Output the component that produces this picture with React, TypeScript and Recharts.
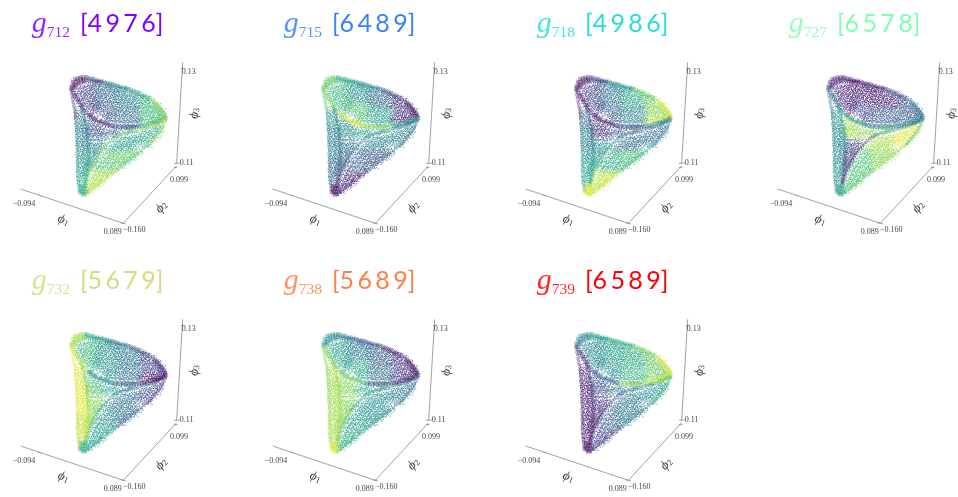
import { ScatterChart, Scatter, XAxis, YAxis, ReferenceLine, ReferenceDot } from 'recharts';

const B1 = [232,262,246,256,259,251,272,254,284,250,238,272,251,268,263,265,276,266,287,262,234,284,246,282,258,279,270,277,282,275,240,296,252,293,264,291,277,288,287,286,247,307,259,304,271,301,283,298,256,318,268,314,280,311,288,307,268,328,279,323,288,319,279,337,287,331];
const B2 = [293,254,305,251,317,256,329,258,341,262,297,266,309,263,322,268,334,270,346,273,293,277,305,275,317,280,329,281,342,284,297,289,310,288,322,292,335,293,347,296,293,300,305,300,317,304,329,305,342,307];
const B3 = [353,268,364,270,376,272,352,281,364,283,376,284,388,280,400,283,412,286,356,293,368,296,380,295,392,293,404,296,416,298,353,305,365,307,377,306,389,305,401,308,413,310,358,316,370,318,383,317,395,316,407,319];
const B4 = [424,292,436,298,428,304,440,308,452,306,422,315,434,318,446,319,458,316,470,320,426,328,438,330,450,331,462,329,474,332,484,336,430,340,442,342,454,342,466,341,478,344];
const B5 = [293,312,305,313,318,315,331,316,344,318,298,325,310,326,322,328,335,329,347,330,303,337,315,339,328,340,340,341,310,350,322,352,334,353,346,353,320,362,332,364,345,366];
const B6 = [356,327,368,330,380,329,392,328,404,331,416,330,353,341,365,342,377,341,389,343,401,342,413,344,356,354,368,355,380,354,392,356,404,355,416,356,358,367,370,368,382,367,394,369,406,368,416,367];
const B7 = [426,352,438,354,450,353,462,352,474,352,486,350,424,365,436,365,448,363,460,360,472,358];
const L1 = [232,330,241,336,233,345,243,350,233,358,243,362,238,372,248,372,234,383,244,385,254,382];
const L2 = [236,395,247,397,256,393,241,407,251,410,259,404,236,418,246,421,257,417,240,431,250,434,259,430,236,444,246,446,256,443,241,457,251,458,260,455,237,469,247,471,257,468];
const L3 = [241,483,251,483,259,480,237,495,246,496,256,494,241,508,251,508,258,505,238,521,247,521,255,518,241,534,250,533,240,546,247,548];
const M1 = [262,352,272,358,264,367,275,371,287,370,298,374,268,381,279,384,291,385,303,386,266,394,277,396,289,397,301,398,270,408,282,409,294,410,306,408];
const M2 = [314,392,326,390,338,389,350,393,374,387,386,384,398,386,316,405,328,403,340,401,352,397];
const M3 = [270,427,282,426,294,425,306,428,270,440,281,438,293,441,303,437,272,452,283,450,293,453,271,464,281,466,288,462,269,477,279,478,268,490,276,489,266,502];
const D1 = [468,374,478,376,432,392,444,390,456,388,468,386,478,390,412,403,424,405,436,402,448,404,460,401,470,403,408,416,420,418,432,415,444,417,456,414,410,428,422,430,434,428,444,430];
const D2 = [372,410,384,408,396,406,350,420,362,420,374,422,386,419,397,421,336,433,348,432,360,434,372,433,384,435,396,432,328,445,340,446,352,444,364,447,376,445,388,446,398,444];
const D3 = [346,458,358,457,370,459,382,457,394,460,406,456,416,454,344,470,356,472,368,470,380,472,392,469,402,467,348,483,360,484,372,482,382,480,346,496,357,495,366,493];
const D4 = [314,452,326,456,336,459,308,466,320,468,332,469,298,479,310,480,322,482,334,482,290,492,302,493,314,495,326,496,336,495,284,505,296,506,308,507,320,508,332,509,342,506];
const D5 = [277,518,289,519,301,520,313,521,325,520,272,531,284,532,296,533,308,534,266,544,278,545,290,546,302,544,262,556,274,558,286,556,256,567,266,568];
const T1 = [214,255,218,244,224,237,232,233,240,231,248,231,220,252,226,245,233,240,241,237,249,237,227,252,235,247,243,244,252,243,213,264,218,262,225,259];
const T2 = [256,231,263,233,270,235,277,236,284,238,291,240,298,241,305,243,258,238,266,240,274,242,282,244,290,246,300,248];
const T3 = [312,246,320,248,328,250,336,252,344,255,352,257,360,259,368,261,376,263,384,266,318,254,332,258,346,262,360,265,374,269];
const T4 = [392,269,400,272,408,275,416,278,424,282,432,285,440,290,448,294,395,276,410,281,425,288,440,297];
const T5 = [456,299,463,305,470,311,476,317,482,325,487,332,491,339,494,346,497,352,462,312,470,320,477,329,483,338,488,347];
const F1 = [216,268,219,278,223,287,228,296,233,305,239,314,245,322,251,329,258,336,226,284,236,300,246,315];
const F2 = [265,344,272,350,280,355,288,360,296,364,304,367,312,370,320,373,328,375,336,377,270,344,285,354,300,362,316,368];
const F3 = [344,378,352,379,360,380,368,381,376,381,384,381,392,381,400,380,408,379,416,378];
const F4 = [424,377,432,375,440,373,448,371,456,369,464,366,472,363,480,360,488,356,494,353,470,368,482,364];
const R1 = [256,546,259,537,262,528,265,519,268,510,272,501,276,492,280,483,285,474,290,466];
const R2 = [296,458,302,450,309,443,316,435,323,428,330,421,338,415,346,410,354,405];
const R3 = [362,402,371,398,380,396,389,393,398,391,407,389,416,387,425,385,434,382,443,380];
const R4 = [452,377,461,374,470,370,478,366,486,362,492,358];
const V1 = [255,545,256,535,258,525,259,515,260,505,261,495,262,485,262,475,263,465,263,455];
const V2 = [263,445,263,435,262,425,262,415,261,405,260,395,259,385,257,375,255,365,252,355,250,345,247,335,245,327];
const E1 = [212,272,214,282,216,292,218,302,220,312,222,322,224,332,225,342,226,352];
const E2 = [227,362,228,372,228,382,229,392,230,402,230,412,230,422,231,432,231,442,232,452];
const E3 = [232,462,232,472,232,482,232,492,232,502,232,512,233,522,233,532,234,542,235,552,236,562,238,570];
const O1 = [495,362,491,372,486,382,481,391,475,400,468,409,461,417,454,425,448,431];
const O2 = [440,437,431,444,422,452,412,459,402,467,392,475,382,482,372,490,362,498,352,507];
const O3 = [342,515,332,523,322,531,312,539,302,547,292,555,282,562,272,570,264,576,256,581,340,508,320,524,300,540,280,555,262,568];
const A1 = [238,574,243,579,248,583,253,581,245,573,251,574,258,573,247,566,254,565,241,565,248,558,255,556,242,556];

const sheets = [B1, B2, B3, B4, B5, B6, B7, L1, L2, L3, M1, M2, M3, D1, D2, D3, D4, D5];
const firmRims = [T1, T2, T3, T4, T5, F1, F2, F3, F4];
const softRims = [R1, R2, R3, R4, V1, V2, E1, E2, E3, O1, O2, O3, A1];
const rims = [...firmRims, ...softRims];

// colour value per zone, same order as sheets then rims
const tones712 = [.2,.35,.45,.65,.25,.35,.7, .4,.45,.55, .25,.3,.45, .6,.55,.75,.7,.85, .05,.2,.45,.6,.8, .08,.1,.2,.6, .8,.75,.8,.95, .6,.4, .1,.45,.55, .85,.7,.9, .6];
const tones715 = [.65,.5,.35,.15,.7,.55,.1, .5,.4,.3, .5,.55,.35, .45,.45,.25,.3,.1, .75,.6,.45,.2,.05, .8,.95,.85,.55, .2,.4,.5,.4, .25,.45, .7,.45,.35, .3,.35,.1, .03];
const tones718 = [.2,.4,.6,.8,.3,.45,.88, .35,.45,.55, .15,.25,.5, .35,.35,.7,.6,.9, .05,.2,.5,.75,.95, .05,.08,.2,.45, .75,.5,.35,.4, .55,.3, .1,.4,.6, .5,.55,.9, .95];
const tones727 = [.1,.07,.1,.25,.2,.3,.35, .5,.45,.5, .85,.8,.2, .95,.85,.8,.7,.7, .1,.05,.1,.25,.4, .4,.5,.45,.35, .1,.15,.5,.45, .15,.55, .4,.45,.5, .6,.85,.75, .55];
const tones732 = [.65,.5,.4,.2,.5,.35,.1, .95,.95,.9, .7,.55,.8, .25,.4,.35,.5,.55, .85,.6,.4,.25,.1, .9,.45,.2,.05, .7,.5,.3,.05, .9,.8, .98,.95,.9, .12,.25,.55, .65];
const tones738 = [.55,.4,.3,.15,.6,.35,.15, .85,.85,.85, .8,.6,.8, .4,.5,.5,.55,.6, .5,.4,.25,.08,.05, .8,.75,.2,.07, .75,.55,.4,.3, .85,.85, .8,.8,.85, .3,.4,.6, .95];
const tones739 = [.45,.55,.6,.75,.5,.65,.8, .1,.1,.07, .25,.4,.15, .5,.4,.4,.3,.2, .45,.55,.65,.8,.95, .1,.3,.85,.9, .05,.2,.45,.7, .07,.15, .15,.1,.07, .6,.45,.2, .02];

const names = ['712', '715', '718', '727', '732', '738', '739'];
const digits = ['[4 9 7 6]', '[6 4 8 9]', '[4 9 8 6]', '[6 5 7 8]', '[5 6 7 9]', '[5 6 8 9]', '[6 5 8 9]'];
const titleColors = ['#8000ff', '#3a80f6', '#2adcdc', '#7effb2', '#d4dc7f', '#ff7f46', '#ff0000'];
const toneLists = [tones712, tones715, tones718, tones727, tones732, tones738, tones739];

const viridis = [[68,1,84],[72,40,120],[62,73,137],[49,104,142],[38,130,142],[31,158,137],[53,183,121],[110,206,88],[181,222,43],[253,231,37]];

function toneColor(t: number) {
  const p = t * (viridis.length - 1);
  const i = Math.min(viridis.length - 2, Math.floor(p));
  const f = p - i;
  const c = viridis[i].map((v, k) => Math.round(v + (viridis[i + 1][k] - v) * f));
  return `rgb(${c[0]},${c[1]},${c[2]})`;
}

function toPoints(flat: number[]) {
  const out = [];
  for (let i = 0; i < flat.length; i += 2) out.push({ x: flat[i], y: flat[i + 1] });
  return out;
}

// speckle marker: fixed grain patterns, one of three picked by where the point falls
const grains = [
  [-2.6,-1.4, -1.2,-2.7, 0.4,-1.6, 2.1,-2.4, -1.9,0.3, -0.3,0.2, 1.6,-0.1, 2.8,1.0, -2.4,2.2, -0.8,1.9, 1.0,2.6, -3.3,-3.0, 3.2,-3.1, 3.4,2.9, -3.1,3.4, 0.3,-3.5],
  [-2.2,-2.5, -0.5,-2.1, 1.3,-2.8, 2.7,-1.1, -2.8,-0.4, -1.0,-0.6, 0.9,0.5, 2.3,0.7, -1.7,1.4, 0.2,2.2, 2.0,2.5, -3.5,1.1, 3.6,-2.4, -0.4,3.4, 3.3,3.3, -3.4,-3.2],
  [-1.6,-1.9, 0.1,-2.9, 1.8,-1.5, -2.9,0.9, -0.7,-0.2, 1.2,-0.3, 2.9,-0.2, -1.3,2.7, -2.1,1.9, 0.6,1.5, 2.4,2.0, -3.4,-1.8, 3.5,1.3, 1.7,3.5, -2.8,3.3, 3.2,-3.3],
];

const speckle = (spread: number, size: number, alpha: number) => (p: any) => {
  const g = grains[Math.abs(Math.round(p.cx * 3 + p.cy * 7)) % grains.length];
  let d = '';
  for (let i = 0; i < g.length; i += 2) {
    const x = p.cx + g[i] * spread;
    const y = p.cy + g[i + 1] * spread;
    d += `M${x.toFixed(2)} ${y.toFixed(2)}h${size}v${size}h-${size}z`;
  }
  return <path d={d} fill={p.fill} fillOpacity={alpha} />;
};

const axisSegments = [
  [62, 567, 370, 670],
  [370, 670, 530, 497],
  [530, 490, 548, 187],
  [522, 490, 540, 489],
  [543, 205, 553, 205],
  [522, 503, 533, 503],
  [362, 668, 378, 672],
  [115, 585, 122, 588],
];

const tickText = [
  { x: 72, y: 618, t: '−0.094' },
  { x: 338, y: 703, t: '0.089' },
  { x: 403, y: 696, t: '−0.160' },
  { x: 537, y: 545, t: '0.099' },
  { x: 566, y: 221, t: '0.13' },
  { x: 560, y: 496, t: '0.11' },
];

const axisNames = [
  { x: 190, y: 662, s: '1', a: 22 },
  { x: 485, y: 622, s: '2', a: -48 },
  { x: 585, y: 340, s: '3', a: -85 },
];

function Panel({ index, col, row }: { index: number; col: number; row: number }) {
  const tones = toneLists[index];
  return (
    <div style={{ position: 'absolute', left: col * 252.4, top: row * 257, willChange: 'transform' }}>
      <ScatterChart width={205} height={240} margin={{ top: 0, right: 0, bottom: 0, left: 0 }}>
        <XAxis type="number" dataKey="x" domain={[0, 615]} hide />
        <YAxis type="number" dataKey="y" domain={[0, 720]} reversed hide />
        {axisSegments.map((s, i) => (
          <ReferenceLine
            key={i}
            segment={[{ x: s[0], y: s[1] }, { x: s[2], y: s[3] }]}
            stroke="#7a7a7a"
            strokeWidth={0.7}
          />
        ))}
        {sheets.map((z, i) => (
          <Scatter
            key={'s' + i}
            data={toPoints(z)}
            fill={toneColor(tones[i])}
            shape={speckle(1.1, 0.95, 0.72)}
            isAnimationActive={false}
          />
        ))}
        {rims.map((z, i) => (
          <Scatter
            key={'r' + i}
            data={toPoints(z)}
            fill={toneColor(tones[sheets.length + i])}
            shape={i < firmRims.length || i === rims.length - 1 ? speckle(0.55, 0.8, 0.6) : speckle(0.42, 0.7, 0.58)}
            isAnimationActive={false}
          />
        ))}
        {tickText.map((l) => (
          <ReferenceDot
            key={l.t}
            x={l.x}
            y={l.y}
            r={0}
            shape={(p: any) => (
              <text x={p.cx} y={p.cy} textAnchor="middle" fontFamily="Liberation Serif" fontSize={8} fill="#444">
                {l.t}
              </text>
            )}
          />
        ))}
        {axisNames.map((l) => (
          <ReferenceDot
            key={l.s}
            x={l.x}
            y={l.y}
            r={0}
            shape={(p: any) => (
              <text
                x={p.cx}
                y={p.cy}
                textAnchor="middle"
                dominantBaseline="middle"
                fontFamily="Liberation Serif"
                fontStyle="italic"
                fontSize={13}
                fill="#333"
                transform={`rotate(${l.a} ${p.cx} ${p.cy})`}
              >
                ϕ
                <tspan fontSize={8.5} dy={2} fontStyle="normal">{l.s}</tspan>
              </text>
            )}
          />
        ))}
        <ReferenceDot
          x={95}
          y={96}
          r={0}
          shape={(p: any) => (
            <text x={p.cx} y={p.cy} fill={titleColors[index]}>
              <tspan fontFamily="Liberation Serif" fontStyle="italic" fontSize={30} fillOpacity={0.85}>g</tspan>
              <tspan fontFamily="Liberation Serif" fontSize={15.5} dy={5} fillOpacity={0.85}>{names[index]}</tspan>
              <tspan fontFamily="Lato" fontSize={25} dy={-5} dx={10} wordSpacing={-3}>{digits[index]}</tspan>
            </text>
          )}
        />
      </ScatterChart>
    </div>
  );
}

export default function App() {
  return (
    <div style={{ position: 'absolute', left: 0, top: 0, width: 958, height: 497, overflow: 'hidden', background: '#fff' }}>
      {names.map((n, i) => (
        <Panel key={n} index={i} col={i % 4} row={Math.floor(i / 4)} />
      ))}
    </div>
  );
}
